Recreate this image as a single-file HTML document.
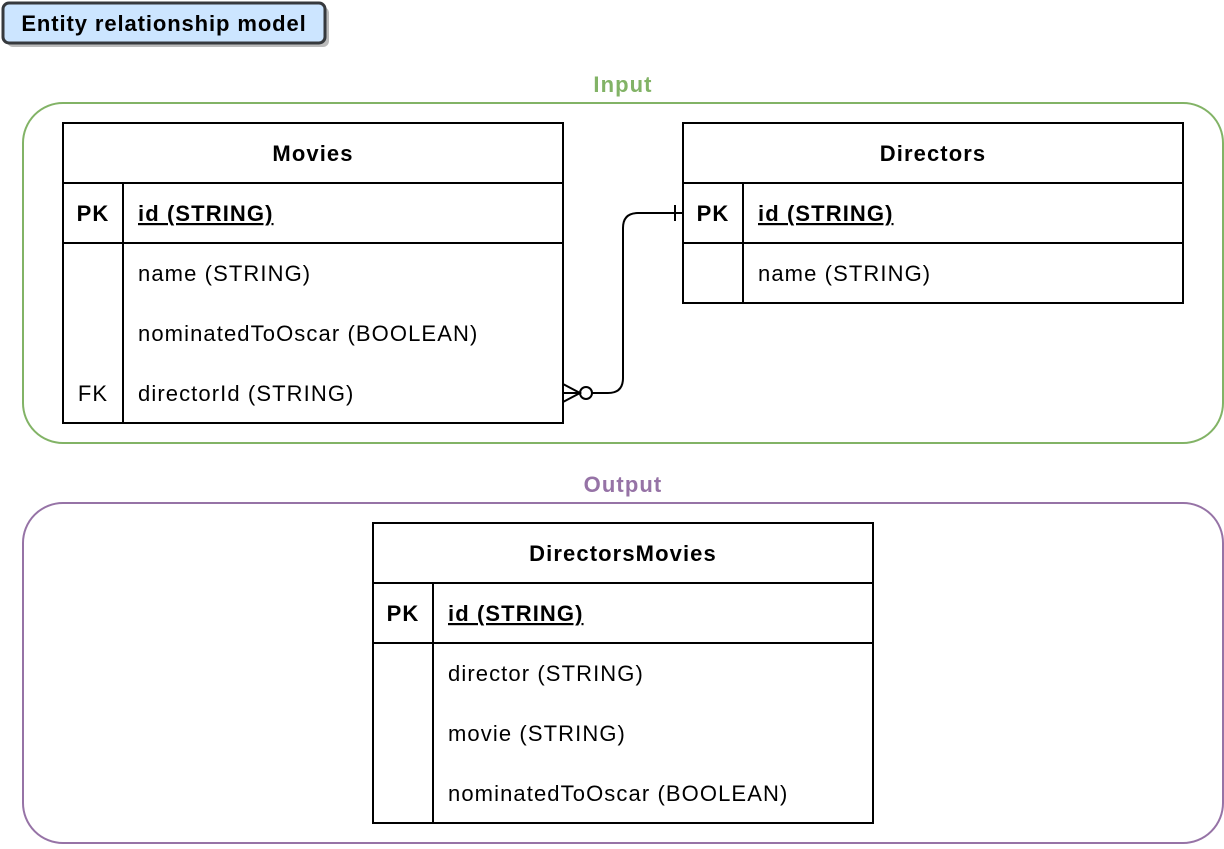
<!DOCTYPE html>
<html><head><meta charset="utf-8"><style>
html,body{margin:0;padding:0;background:#fff;}
svg text{font-family:"Liberation Sans",Arial,sans-serif;font-size:22px;letter-spacing:1.1px;fill:#000;}
.b{font-weight:bold;}
</style></head><body>
<svg width="1224" height="844" viewBox="0 0 1224 844" xmlns="http://www.w3.org/2000/svg">
<rect x="7" y="7" width="322" height="40" rx="6" fill="#bbb"/>
<rect x="3" y="3" width="322" height="40" rx="6" fill="#cce5ff" stroke="#36393d" stroke-width="3"/>
<text x="164" y="31" text-anchor="middle" class="b" style="letter-spacing:0.9px">Entity relationship model</text>

<rect x="23" y="103" width="1200" height="340" rx="40" fill="none" stroke="#82b366" stroke-width="2"/>
<text x="623" y="92" text-anchor="middle" class="b" style="fill:#82b366">Input</text>
<rect x="23" y="503" width="1200" height="340" rx="40" fill="none" stroke="#9673a6" stroke-width="2"/>
<text x="623" y="492" text-anchor="middle" class="b" style="fill:#9673a6">Output</text>

<g fill="none" stroke="#000" stroke-width="2">
<rect x="63" y="123" width="500" height="300" fill="#fff"/>
<line x1="63" y1="183" x2="563" y2="183"/><line x1="63" y1="243" x2="563" y2="243"/>
<line x1="123" y1="183" x2="123" y2="423"/>
<rect x="683" y="123" width="500" height="180" fill="#fff"/>
<line x1="683" y1="183" x2="1183" y2="183"/><line x1="683" y1="243" x2="1183" y2="243"/>
<line x1="743" y1="183" x2="743" y2="303"/>
<rect x="373" y="523" width="500" height="300" fill="#fff"/>
<line x1="373" y1="583" x2="873" y2="583"/><line x1="373" y1="643" x2="873" y2="643"/>
<line x1="433" y1="583" x2="433" y2="823"/>
<path d="M592 393 H608 Q623 393 623 378 V228 Q623 213 638 213 H683"/>
<line x1="675" y1="205" x2="675" y2="221"/>
<circle cx="586" cy="393" r="6" fill="#fff"/>
<path d="M563 384 L580 393 L563 402 M563 393 H580"/>
</g>

<text x="313" y="161" text-anchor="middle" class="b">Movies</text>
<text x="93" y="221" text-anchor="middle" class="b">PK</text>
<text x="138" y="221" class="b" text-decoration="underline">id (STRING)</text>
<text x="138" y="281">name (STRING)</text>
<text x="138" y="341">nominatedToOscar (BOOLEAN)</text>
<text x="93" y="401" text-anchor="middle">FK</text>
<text x="138" y="401">directorId (STRING)</text>

<text x="933" y="161" text-anchor="middle" class="b">Directors</text>
<text x="713" y="221" text-anchor="middle" class="b">PK</text>
<text x="758" y="221" class="b" text-decoration="underline">id (STRING)</text>
<text x="758" y="281">name (STRING)</text>

<text x="623" y="561" text-anchor="middle" class="b">DirectorsMovies</text>
<text x="403" y="621" text-anchor="middle" class="b">PK</text>
<text x="448" y="621" class="b" text-decoration="underline">id (STRING)</text>
<text x="448" y="681">director (STRING)</text>
<text x="448" y="741">movie (STRING)</text>
<text x="448" y="801">nominatedToOscar (BOOLEAN)</text>
</svg>
</body></html>
